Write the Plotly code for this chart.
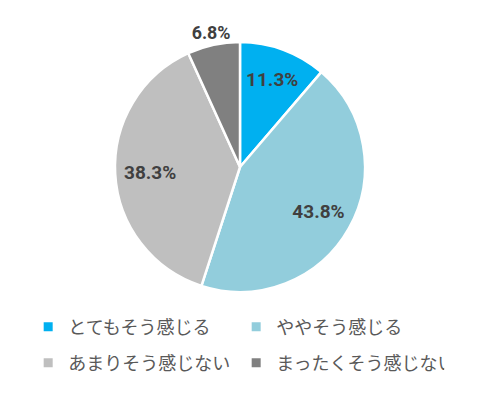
import plotly.graph_objects as go

categories = ["とてもそう感じる", "ややそう感じる", "あまりそう感じない", "まったくそう感じない"]
values = [11.3, 43.8, 38.3, 6.8]
colors = ["#00B0F0", "#92CDDC", "#BFBFBF", "#808080"]
outside_flags = [False, False, False, True]

label_font = dict(family="Roboto", size=19, color="#404040", weight="bold")
pie_domain = dict(x=[0.22107, 0.73760], y=[0.26234, 0.91169])
outer_domain = dict(x=[0.15083, 0.80785], y=[0.17403, 1.0])

fig = go.Figure()

# visual pie
fig.add_trace(go.Pie(
    labels=categories,
    values=values,
    sort=False,
    direction="clockwise",
    rotation=0,
    marker=dict(colors=colors, line=dict(color="white", width=2.5)),
    textinfo="none",
    domain=pie_domain,
    hoverinfo="skip",
    showlegend=False,
))

# transparent ring that places the inside labels
fig.add_trace(go.Pie(
    labels=categories,
    values=values,
    sort=False,
    direction="clockwise",
    rotation=0,
    hole=0.44,
    marker=dict(colors=["rgba(0,0,0,0)"] * len(values), line=dict(width=0)),
    texttemplate="%{value:.1f}%",
    textposition=["none" if f else "inside" for f in outside_flags],
    insidetextorientation="horizontal",
    insidetextfont=label_font,
    domain=pie_domain,
    hoverinfo="skip",
    showlegend=False,
))

# transparent outer ring that places the label of the small slice outside the pie
fig.add_trace(go.Pie(
    labels=categories,
    values=values,
    sort=False,
    direction="clockwise",
    rotation=0,
    hole=0.72,
    marker=dict(colors=["rgba(0,0,0,0)"] * len(values), line=dict(width=0)),
    texttemplate="%{value:.1f}%",
    textposition=["inside" if f else "none" for f in outside_flags],
    insidetextorientation="horizontal",
    insidetextfont=label_font,
    domain=outer_domain,
    hoverinfo="skip",
    showlegend=False,
))

# legend entries (two rows, two columns)
for i, (name, col) in enumerate(zip(categories, colors)):
    fig.add_trace(go.Scatter(
        x=[None], y=[None], mode="markers", name=name,
        marker=dict(symbol="square", size=9, color=col),
        legend="legend" if i < 2 else "legend2",
        hoverinfo="skip",
    ))

legend_common = dict(
    orientation="h",
    xanchor="left",
    yanchor="middle",
    entrywidth=163, entrywidthmode="pixels",
    font=dict(family="Noto Sans CJK JP", size=18, color="#595959"),
    itemclick=False, itemdoubleclick=False,
    bgcolor="rgba(0,0,0,0)",
)

fig.update_layout(
    width=484, height=385,
    margin=dict(l=0, r=0, t=0, b=0),
    paper_bgcolor="white",
    plot_bgcolor="white",
    xaxis=dict(visible=False),
    yaxis=dict(visible=False),
    legend=dict(legend_common, x=0.0417, y=1 - 319 / 385),
    legend2=dict(legend_common, x=0.0417, y=1 - 355 / 385),
)

fig.write_html("out.html")
